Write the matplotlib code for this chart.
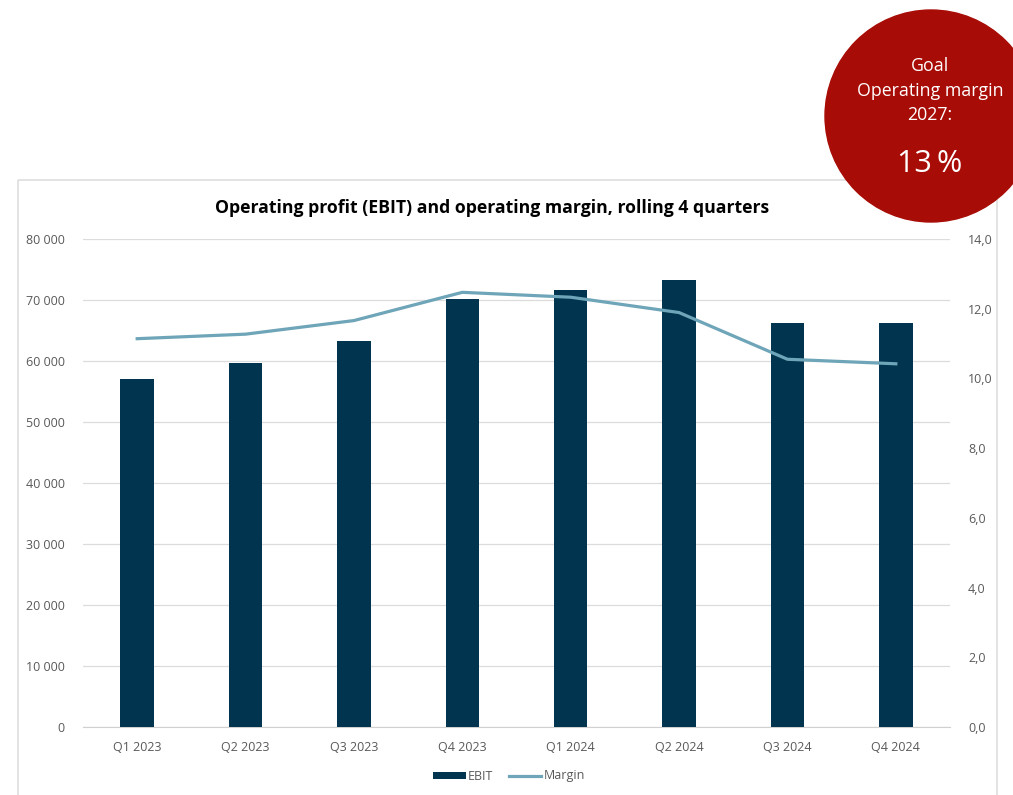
import matplotlib
matplotlib.use("Agg")
import matplotlib.pyplot as plt
from matplotlib.patches import Rectangle, Circle
import numpy as np

quarters = ["Q1 2023", "Q2 2023", "Q3 2023", "Q4 2023", "Q1 2024", "Q2 2024", "Q3 2024", "Q4 2024"]
ebit = [57000, 59700, 63200, 70200, 71700, 73300, 66200, 66300]
margin = [11.14, 11.27, 11.66, 12.47, 12.33, 11.89, 10.55, 10.42]

left_ticks = np.arange(0, 80001, 10000)
right_ticks = np.arange(0, 14.01, 2)

BAR = "#00344f"
LINE = "#6ea5b8"
GREY = "#595959"
RED = "#a80c06"

plt.rcParams['font.family'] = ['Open Sans', 'DejaVu Sans']

fig = plt.figure(figsize=(10.13, 7.95), dpi=100)
fig.patch.set_facecolor("white")

ax = fig.add_axes([83/1013, 68/795, 867/1013, 488/795])
x = np.arange(len(quarters))
ax.bar(x, ebit, width=0.31, color=BAR, zorder=3, label="EBIT")
ax.set_xlim(-0.5, len(quarters) - 0.5)
ax.set_ylim(0, 80000)
ax.set_yticks(left_ticks)
ax.set_yticklabels([f"{v:,}".replace(",", " ") for v in left_ticks])
ax.set_xticks(x)
ax.set_xticklabels(quarters)
ax.grid(axis="y", color="#dcdcdc", lw=0.9, zorder=0)
for s in ["top", "right", "left"]:
    ax.spines[s].set_visible(False)
ax.spines["bottom"].set_color("#d0d0d0")
ax.tick_params(axis="both", length=0, colors=GREY, labelsize=9)
ax.tick_params(axis="y", pad=13)
ax.tick_params(axis="x", pad=10)

ax2 = ax.twinx()
ax2.plot(x, margin, color=LINE, lw=2.3, zorder=4, label="Margin")
ax2.set_ylim(0, 14)
ax2.set_yticks(right_ticks)
ax2.set_yticklabels([f"{v:.1f}".replace(".", ",") for v in right_ticks])
for s in ax2.spines.values():
    s.set_visible(False)
ax2.tick_params(axis="y", length=0, colors=GREY, labelsize=9, pad=13)

h1, l1 = ax.get_legend_handles_labels()
h2, l2 = ax2.get_legend_handles_labels()
fig.legend(h1 + h2, l1 + l2, loc="center", bbox_to_anchor=(509/1013, 1 - 776/795),
           ncol=2, frameon=False, fontsize=9, labelcolor=GREY, handlelength=2.6,
           handletextpad=0.2, columnspacing=1.2, handleheight=0.5)

fig.text(492/1013, 1 - 208/795, "Operating profit (EBIT) and operating margin, rolling 4 quarters",
         ha="center", va="center", fontsize=12.7, fontweight="bold", color="black")

# overlay for the frame and goal badge, in pixel units
ov = fig.add_axes([0, 0, 1, 1], zorder=10)
ov.set_xlim(0, 1013)
ov.set_ylim(795, 0)
ov.axis("off")
ov.patch.set_visible(False)
ov.add_patch(Rectangle((18, 180), 979, 630, fill=False, ec="#dedede", lw=1.2))
ov.add_patch(Circle((931, 116), 106, color=RED))
ov.text(930, 66, "Goal", color="white", ha="center", va="center", fontsize=12.8)
ov.text(930, 91, "Operating margin", color="white", ha="center", va="center", fontsize=12.8)
ov.text(930, 115, "2027:", color="white", ha="center", va="center", fontsize=12.8)
ov.text(930, 164, "13\u2009%", color="white", ha="center", va="center", fontsize=22)

fig.savefig("out.png", dpi=100)
